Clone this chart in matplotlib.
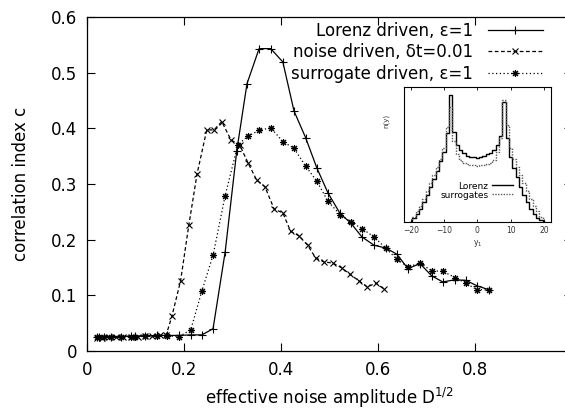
import numpy as np
import matplotlib
matplotlib.use("Agg")
import matplotlib.pyplot as plt

plt.rcParams['font.family'] = ['DejaVu Sans']

# main curves
lorenz_x = [0.02, 0.025, 0.035, 0.05, 0.07, 0.09, 0.1, 0.12, 0.145, 0.165, 0.19, 0.214, 0.237,
            0.26, 0.285, 0.309, 0.33, 0.355, 0.379, 0.404, 0.427, 0.451, 0.474, 0.497, 0.522,
            0.544, 0.567, 0.592, 0.616, 0.639, 0.662, 0.687, 0.711, 0.734, 0.759, 0.781, 0.805, 0.829]
lorenz_y = [0.025, 0.025, 0.026, 0.026, 0.026, 0.027, 0.027, 0.027, 0.028, 0.028, 0.028, 0.029, 0.029,
            0.04, 0.178, 0.36, 0.48, 0.543, 0.543, 0.519, 0.431, 0.383, 0.329, 0.284, 0.247,
            0.23, 0.205, 0.19, 0.185, 0.174, 0.148, 0.157, 0.135, 0.124, 0.128, 0.127, 0.117, 0.11]

noise_x = [0.02, 0.03, 0.045, 0.06, 0.075, 0.09, 0.105, 0.12, 0.135, 0.15, 0.163,
           0.175, 0.193, 0.21, 0.227, 0.247, 0.262, 0.278, 0.297, 0.315, 0.332, 0.35, 0.367,
           0.386, 0.404, 0.42, 0.437, 0.455, 0.472, 0.489, 0.507, 0.526, 0.542, 0.561, 0.578,
           0.596, 0.613]
noise_y = [0.024, 0.024, 0.025, 0.025, 0.026, 0.026, 0.026, 0.027, 0.027, 0.028, 0.028,
           0.062, 0.126, 0.226, 0.318, 0.397, 0.397, 0.412, 0.379, 0.37, 0.338, 0.307, 0.295,
           0.255, 0.248, 0.215, 0.207, 0.19, 0.167, 0.16, 0.158, 0.149, 0.138, 0.126, 0.115,
           0.122, 0.111]

surr_x = [0.02, 0.025, 0.035, 0.05, 0.07, 0.09, 0.1, 0.12, 0.145, 0.165, 0.19,
          0.214, 0.237, 0.26, 0.285, 0.311, 0.332, 0.355, 0.379, 0.404, 0.427, 0.451, 0.474,
          0.497, 0.522, 0.544, 0.567, 0.592, 0.616, 0.639, 0.662, 0.687, 0.711, 0.734, 0.759,
          0.781, 0.805, 0.829]
surr_y = [0.025, 0.025, 0.025, 0.026, 0.026, 0.026, 0.026, 0.027, 0.027, 0.027, 0.026,
          0.038, 0.108, 0.172, 0.279, 0.37, 0.386, 0.396, 0.401, 0.376, 0.364, 0.332, 0.305,
          0.269, 0.245, 0.232, 0.22, 0.205, 0.185, 0.165, 0.151, 0.158, 0.144, 0.143, 0.132,
          0.122, 0.11, 0.11]

# inset histograms (bin centres -20..20)
hist_bins = list(range(-20, 21))
hist_lorenz = [0.01, 0.03, 0.06, 0.10, 0.15, 0.20, 0.26, 0.32, 0.38, 0.45, 0.52, 0.66, 0.94,
               0.67, 0.57, 0.53, 0.51, 0.49, 0.485, 0.48, 0.475, 0.48, 0.49, 0.50, 0.51, 0.53,
               0.57, 0.64, 0.89, 0.62, 0.48, 0.40, 0.33, 0.26, 0.20, 0.15, 0.10, 0.06, 0.03,
               0.015, 0.005]
hist_surr = [0.02, 0.04, 0.08, 0.12, 0.17, 0.23, 0.29, 0.35, 0.41, 0.47, 0.55, 0.70, 0.85,
             0.60, 0.50, 0.46, 0.44, 0.43, 0.42, 0.42, 0.415, 0.42, 0.42, 0.43, 0.44, 0.46,
             0.52, 0.62, 0.90, 0.72, 0.55, 0.47, 0.41, 0.35, 0.29, 0.23, 0.17, 0.12, 0.08,
             0.04, 0.02]

fig = plt.figure(figsize=(5.65, 4.12), dpi=100)
ax = fig.add_axes([0.154, 0.148, 0.858, 0.811])

ax.plot(lorenz_x, lorenz_y, color='k', lw=0.9, ls='-', marker='+', ms=6, mew=0.8,
        label='Lorenz driven, ε=1')
ax.plot(noise_x, noise_y, color='k', lw=0.9, ls=(0, (3, 2)), marker='x', ms=4.5, mew=0.8,
        label='noise driven, δt=0.01')
ax.plot(surr_x, surr_y, color='k', lw=0.9, ls=(0, (1, 2)), marker=(8, 2, 0), ms=5, mew=0.8,
        label='surrogate driven, ε=1')

ax.set_xlim(0, 1)
ax.set_ylim(0, 0.6)
ax.set_xticks([0, 0.2, 0.4, 0.6, 0.8, 1.0])
ax.set_xticklabels(['0', '0.2', '0.4', '0.6', '0.8', '1'])
ax.set_yticks([0, 0.1, 0.2, 0.3, 0.4, 0.5, 0.6])
ax.set_yticklabels(['0', '0.1', '0.2', '0.3', '0.4', '0.5', '0.6'])
ax.tick_params(direction='in', top=True, right=True, length=6, width=0.8, labelsize=12, pad=7)
for s in ax.spines.values():
    s.set_linewidth(0.9)
ax.set_xlabel('effective noise amplitude D$^{1/2}$', fontsize=12, labelpad=5)
ax.set_ylabel('correlation index c', fontsize=12, labelpad=15)

ax.legend(loc='upper right', bbox_to_anchor=(0.94, 0.985), frameon=False, markerfirst=False,
          fontsize=12, handlelength=3.3, handletextpad=0.9, labelspacing=0.2,
          borderaxespad=0, borderpad=0)

# inset
ins = fig.add_axes([0.715, 0.461, 0.260, 0.328])
ins.step(hist_bins, hist_lorenz, where='mid', color='k', lw=1.0, label='Lorenz')
ins.step(hist_bins, hist_surr, where='mid', color='0.35', lw=1.0, ls=(0, (1, 1)), label='surrogates')
ins.set_xlim(-22, 22)
ins.set_ylim(0, 1.0)
ins.set_xticks([-20, -10, 0, 10, 20])
ins.set_yticks([])
ins.tick_params(direction='in', top=True, length=2.5, width=0.6, labelsize=5.5, pad=3,
                labelcolor='0.2')
for s in ins.spines.values():
    s.set_linewidth(0.8)
ins.set_xlabel('y$_1$', fontsize=5.5, labelpad=2, color='0.2')
ins.set_ylabel('n(y)', fontsize=5, color='0.2')
ins.yaxis.set_label_coords(-0.1, 0.75)
ins.legend(loc='upper right', bbox_to_anchor=(0.74, 0.3), frameon=False, markerfirst=False,
           fontsize=6.5, handlelength=2.3, handletextpad=0.4, labelspacing=0.0,
           borderaxespad=0, borderpad=0)

fig.savefig('out.png', dpi=100)
